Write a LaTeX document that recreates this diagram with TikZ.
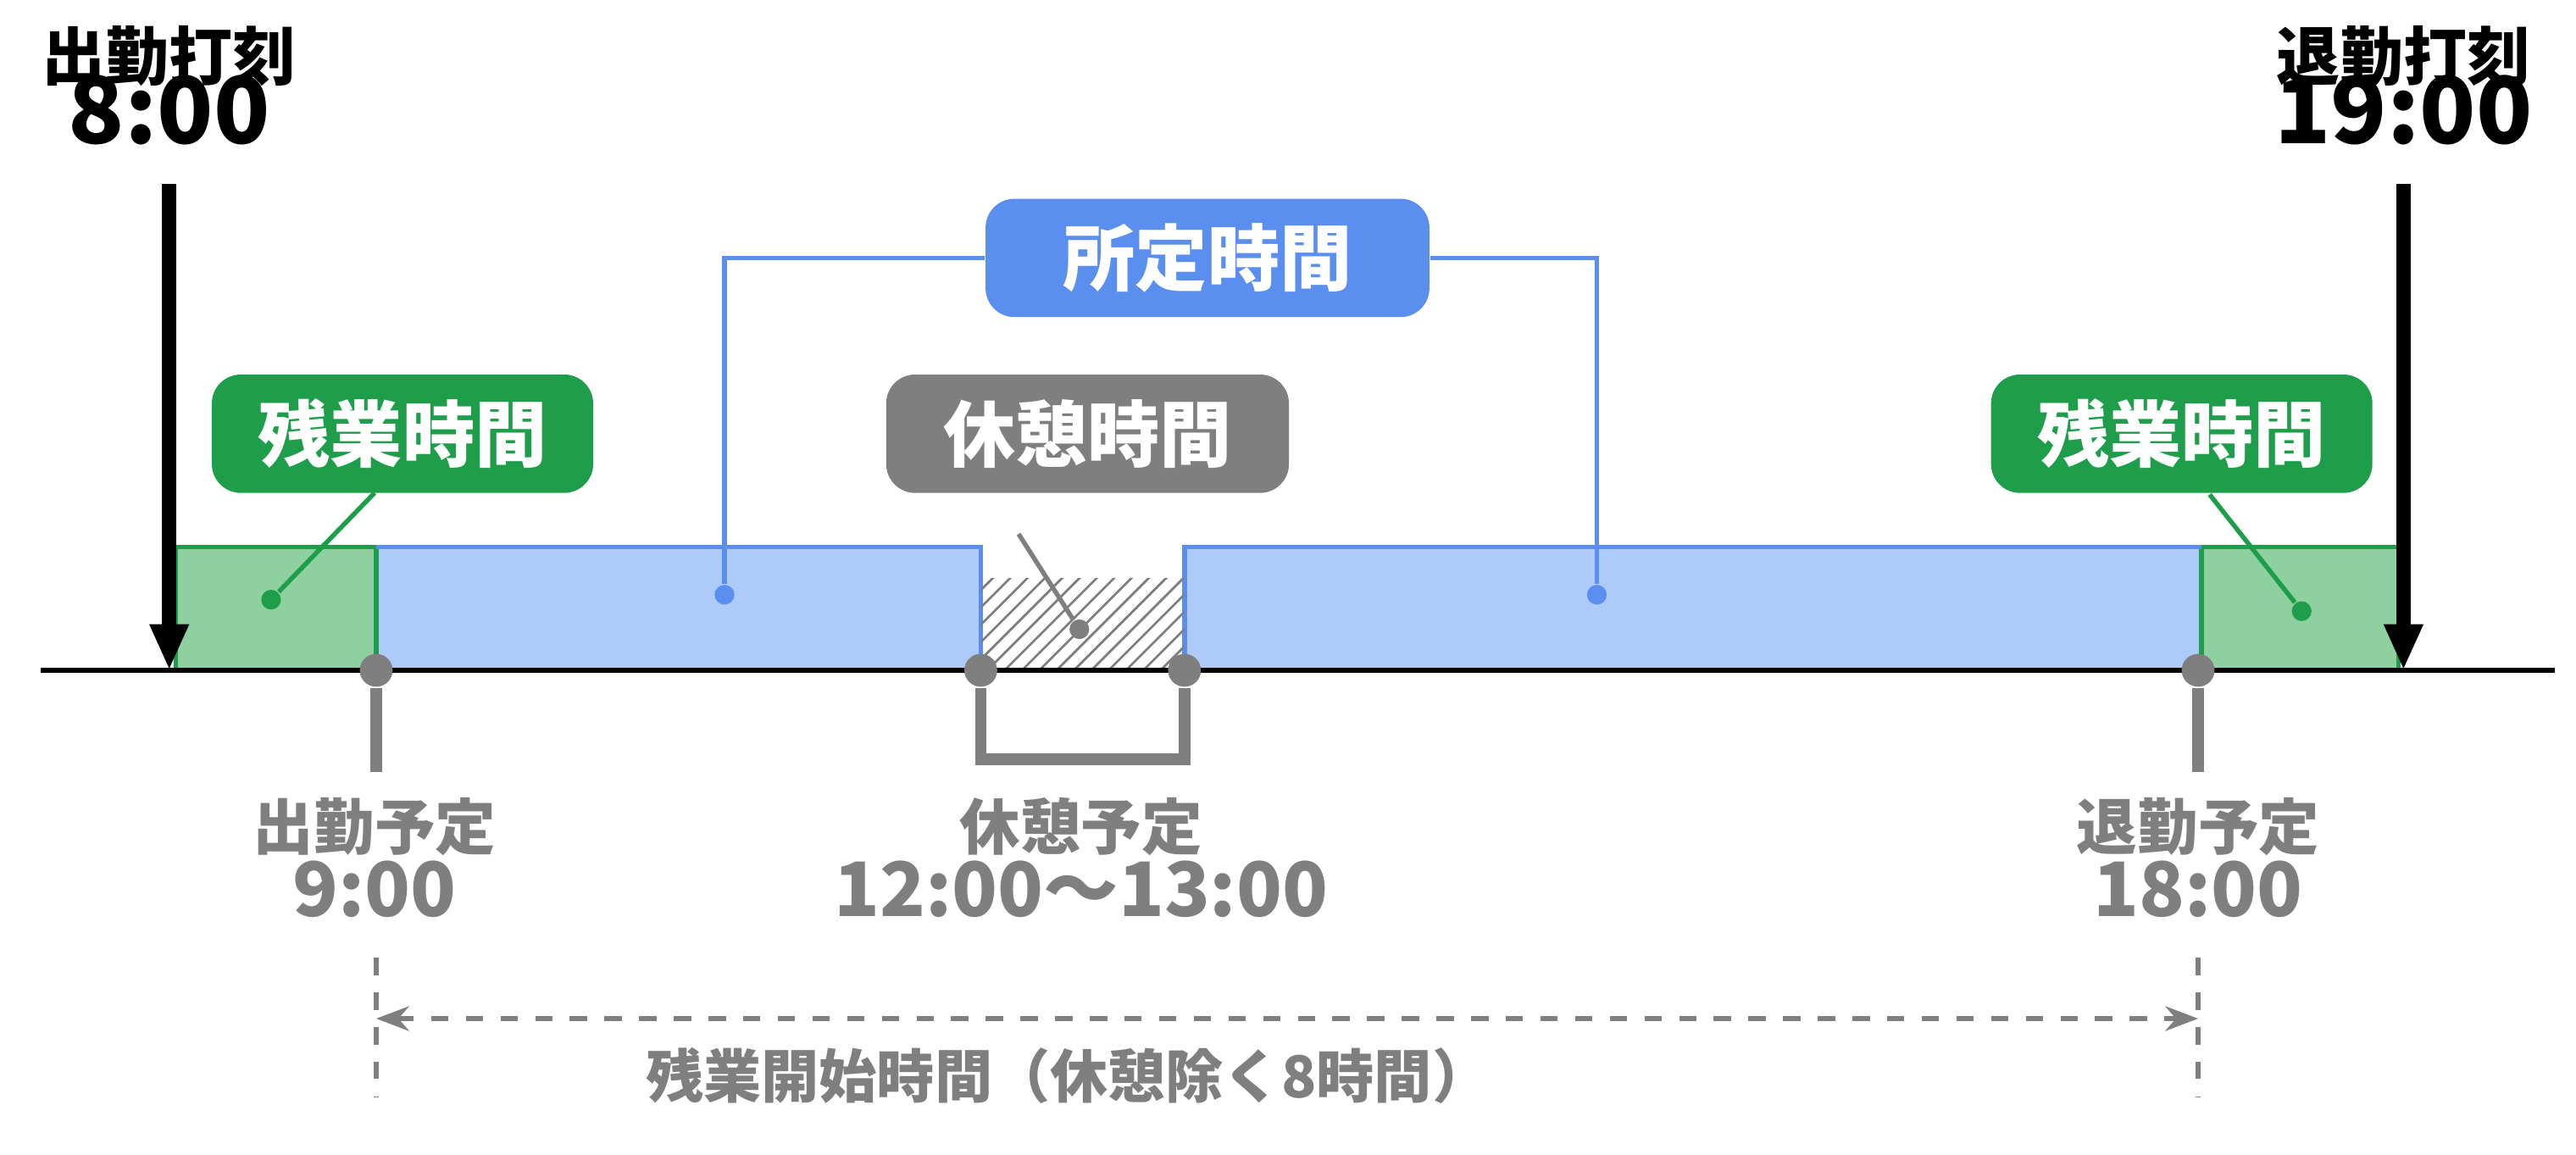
\documentclass[tikz,border=0pt]{standalone}
\usepackage{fontspec}
\setmainfont{Noto Sans CJK JP}
\usetikzlibrary{patterns, arrows.meta}
\definecolor{planblue}{HTML}{5B8FEF}
\definecolor{fillblue}{HTML}{AECAF8}
\definecolor{overgreen}{HTML}{1E9E4A}
\definecolor{fillgreen}{HTML}{8FD0A0}
\definecolor{restgray}{HTML}{7F7F7F}

\begin{document}
\begin{tikzpicture}[
    x=0.01cm, y=-0.01cm,
    tag/.style={rounded corners=5pt, text=white, font=\bfseries\fontsize{12.5}{14}\selectfont,
        minimum height=0.72cm, inner sep=0pt},
    stamp/.style={font=\bfseries\fontsize{11}{13}\selectfont, align=center},
    plan/.style={font=\bfseries\fontsize{10.5}{12.5}\selectfont, text=restgray, align=center},
    dot/.style={circle, fill=#1, inner sep=0pt, minimum size=0.12cm},
    pin/.style={circle, fill=restgray, inner sep=0pt, minimum size=0.2cm}
]
\useasboundingbox (0,0) rectangle (1568,703);

% bars
\fill[fillgreen] (107,333) rectangle (229,408);
\fill[fillgreen] (1340,333) rectangle (1460,408);
\fill[fillblue] (229,333) rectangle (597,408);
\fill[fillblue] (721,333) rectangle (1340,408);
\draw[overgreen, thick] (107,408) |- (229,333) -- (229,408);
\draw[overgreen, thick] (1340,408) |- (1460,333) -- (1460,408);
\draw[planblue, thick] (229,333) -- (597,333) -- (597,408);
\draw[planblue, thick] (721,408) -- (721,333) -- (1340,333);
\fill[pattern=north east lines, pattern color=restgray] (597,352) rectangle (721,408);

% time axis
\draw[thick] (25,408) -- (1555,408);

% stamps
\node[stamp] (inLabel) at (103,52) {出勤打刻\\[-2pt]\fontsize{16}{18}\selectfont 8:00};
\node[stamp] (outLabel) at (1463,52) {退勤打刻\\[-2pt]\fontsize{16}{18}\selectfont 19:00};
\coordinate (inTop) at (103,112);
\coordinate (inEnd) at (103,408);
\coordinate (outTop) at (1463,112);
\coordinate (outEnd) at (1463,408);
\draw[line width=2.5pt, -{Triangle[length=0.28cm, width=0.22cm]}] (inTop) -- (inEnd);
\draw[line width=2.5pt, -{Triangle[length=0.28cm, width=0.22cm]}] (outTop) -- (outEnd);

% tags
\node[tag, fill=planblue, minimum width=2.7cm] (planTag) at (735,157) {所定時間};
\node[tag, fill=restgray, minimum width=2.45cm] (restTag) at (662,264) {休憩時間};
\node[tag, fill=overgreen, minimum width=2.32cm] (overL) at (245,264) {残業時間};
\node[tag, fill=overgreen, minimum width=2.32cm] (overR) at (1328,264) {残業時間};

\node[dot=planblue] (planL) at (441,362) {};
\node[dot=planblue] (planR) at (972,362) {};
\node[dot=restgray] (restDot) at (657,383) {};
\node[dot=overgreen] (overLDot) at (165,365) {};
\node[dot=overgreen] (overRDot) at (1401,372) {};

\draw[planblue, thick] (planTag.west) -| (planL);
\draw[planblue, thick] (planTag.east) -| (planR);
\draw[restgray, thick] (620,325) -- (restDot);
\draw[overgreen, thick] (228,300) -- (overLDot);
\draw[overgreen, thick] (1345,301) -- (overRDot);

% planned marks
\node[pin] (m1) at (229,408) {};
\node[pin] (m2) at (597,408) {};
\node[pin] (m3) at (721,408) {};
\node[pin] (m4) at (1338,408) {};
\draw[restgray, line width=2pt] (m1) -- (229,470);
\draw[restgray, line width=2pt] (m4) -- (1338,470);
\draw[restgray, line width=2pt] (m2) |- (721,462) -- (m3);

\node[plan] (startPlan) at (228,522) {出勤予定\\[-1pt]\fontsize{13}{15}\selectfont 9:00};
\node[plan] (restPlan) at (658,522) {休憩予定\\[-1pt]\fontsize{13}{15}\selectfont 12:00〜13:00};
\node[plan] (endPlan) at (1338,522) {退勤予定\\[-1pt]\fontsize{13}{15}\selectfont 18:00};

% overtime start span
\coordinate (spanL) at (229,620);
\coordinate (spanR) at (1338,620);
\draw[restgray, thick, dashed] (229,583) -- (229,668);
\draw[restgray, thick, dashed] (1338,583) -- (1338,668);
\draw[restgray, thick, dashed, {Stealth[length=0.2cm]}-{Stealth[length=0.2cm]}] (spanL) -- (spanR);
\node[plan, font=\bfseries\fontsize{10}{12}\selectfont] (spanText) at (650,655) {残業開始時間（休憩除く8時間）};
\end{tikzpicture}
\end{document}
